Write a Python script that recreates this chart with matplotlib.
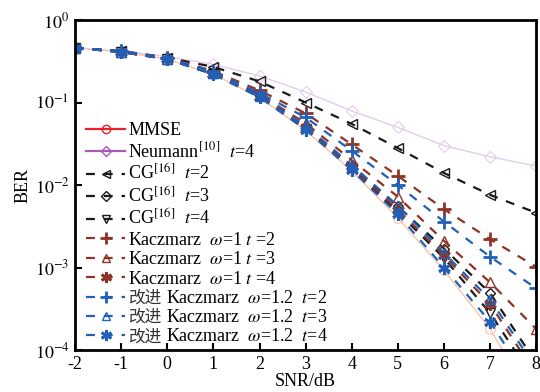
import matplotlib
matplotlib.use('Agg')
import matplotlib.pyplot as plt
from matplotlib.lines import Line2D
from matplotlib.ticker import FixedLocator, NullLocator

plt.rcParams['font.family'] = ['Liberation Serif', 'Noto Sans CJK SC']
plt.rcParams['mathtext.fontset'] = 'stix'
plt.rcParams['axes.unicode_minus'] = False

# SNR axis
snr = [-2, -1, 0, 1, 2, 3, 4, 5, 6, 7, 8]

# BER curves
mmse = [0.46, 0.41, 0.335, 0.22, 0.115, 0.046, 0.0148, 0.0040, 0.00093, 0.00018, 0.00002]
neumann = [0.46, 0.42, 0.36, 0.29, 0.21, 0.134, 0.079, 0.050, 0.030, 0.022, 0.017]
cg2 = [0.46, 0.42, 0.35, 0.27, 0.18, 0.10, 0.055, 0.028, 0.014, 0.0076, 0.0046]
cg3 = [0.46, 0.41, 0.34, 0.225, 0.12, 0.050, 0.0170, 0.0055, 0.0017, 0.00049, 0.00007]
cg4 = [0.46, 0.41, 0.335, 0.22, 0.117, 0.048, 0.0158, 0.0047, 0.0013, 0.00028, 0.00004]
kz2 = [0.46, 0.42, 0.35, 0.24, 0.14, 0.074, 0.031, 0.0129, 0.0051, 0.0022, 0.00102]
kz3 = [0.46, 0.41, 0.34, 0.228, 0.125, 0.056, 0.020, 0.0072, 0.0021, 0.00066, 0.00018]
kz4 = [0.46, 0.41, 0.335, 0.222, 0.118, 0.049, 0.0165, 0.0050, 0.0014, 0.00036, 0.00005]
ikz2 = [0.46, 0.42, 0.345, 0.235, 0.13, 0.066, 0.026, 0.0100, 0.0036, 0.00135, 0.00056]
ikz3 = [0.46, 0.41, 0.34, 0.225, 0.12, 0.052, 0.0175, 0.0056, 0.0015, 0.00041, 0.00006]
ikz4 = [0.46, 0.41, 0.335, 0.22, 0.116, 0.047, 0.0152, 0.0044, 0.0010, 0.00022, 0.00003]

ytick_vals = [1e-4, 1e-3, 1e-2, 1e-1, 1]
ytick_labels = ['$10^{-4}$', '$10^{-3}$', '$10^{-2}$', '$10^{-1}$', '$10^{0}$']

red = '#e8212a'
purple = '#a65cb4'
salmon = '#f9c3ab'
lavender = '#e2cdea'
black = '#1a1a1a'
brown = '#8e3426'
blue = '#2160b8'
ast = (6, 2, 0)

# for the last three rows the legend only holds the CJK word (plain text can
# fall back to the CJK font), the mathtext rest is written next to it
labels = ['MMSE',
          'Neumann$^{[10]}$  $t$=4',
          'CG$^{[16]}$  $t$=2',
          'CG$^{[16]}$  $t$=3',
          'CG$^{[16]}$  $t$=4',
          'Kaczmarz  $\\omega$=1 $t$ =2',
          'Kaczmarz  $\\omega$=1 $t$ =3',
          'Kaczmarz  $\\omega$=1 $t$ =4',
          '改进',
          '改进',
          '改进']
label_tails = ['Kaczmarz  $\\omega$=1.2  $t$=2',
               'Kaczmarz  $\\omega$=1.2  $t$=3',
               'Kaczmarz  $\\omega$=1.2  $t$=4']

fig = plt.figure(figsize=(5.4, 3.92), dpi=100)
ax = fig.add_axes([0.139, 0.107, 0.854, 0.842])

dash = (0, (4, 4))
ax.semilogy(snr, mmse, color=salmon, lw=1.0, marker='o', mfc='none', ms=7, mew=0.8)
ax.semilogy(snr, neumann, color=lavender, lw=1.0, marker='D', mfc='none', ms=6, mew=0.8)
ax.semilogy(snr, cg2, color=black, lw=1.6, ls=dash, marker='<', mfc='none', ms=7, mew=1.0)
ax.semilogy(snr, cg3, color=black, lw=1.6, ls=dash, marker='D', mfc='none', ms=5.5, mew=1.0)
ax.semilogy(snr, cg4, color=black, lw=1.6, ls=dash, marker='v', mfc='none', ms=7, mew=1.0)
ax.semilogy(snr, kz2, color=brown, lw=1.6, ls=dash, marker='+', ms=10, mew=2.0)
ax.semilogy(snr, kz3, color=brown, lw=1.6, ls=dash, marker='^', mfc='none', ms=7, mew=1.0)
ax.semilogy(snr, kz4, color=brown, lw=1.6, ls=dash, marker=ast, ms=9, mew=2.0)
ax.semilogy(snr, ikz2, color=blue, lw=1.6, ls=dash, marker='+', ms=10, mew=2.0)
ax.semilogy(snr, ikz3, color=blue, lw=1.6, ls=dash, marker='^', mfc='none', ms=7, mew=1.0)
ax.semilogy(snr, ikz4, color=blue, lw=1.6, ls=dash, marker=ast, ms=9, mew=2.0)

ax.set_xlim(-2, 8)
ax.set_ylim(1e-4, 1)
ax.set_xticks(snr)
ax.yaxis.set_major_locator(FixedLocator(ytick_vals))
ax.set_yticklabels(ytick_labels)
ax.yaxis.set_minor_locator(NullLocator())
ax.tick_params(direction='in', length=5, width=1.5, labelsize=13, pad=4)
for s in ax.spines.values():
    s.set_linewidth(2)
ax.set_xlabel('SNR/dB', fontsize=13, labelpad=0)
ax.set_ylabel('BER', fontsize=13, labelpad=2)

handles = [
    Line2D([], [], color=red, lw=1.6, marker='o', mfc='none', ms=6),
    Line2D([], [], color=purple, lw=1.6, marker='D', mfc='none', ms=5),
    Line2D([], [], color=black, lw=1.6, ls=dash, marker='<', mfc='none', ms=6),
    Line2D([], [], color=black, lw=1.6, ls=dash, marker='D', mfc='none', ms=5),
    Line2D([], [], color=black, lw=1.6, ls=dash, marker='v', mfc='none', ms=6),
    Line2D([], [], color=brown, lw=1.6, ls=dash, marker='+', ms=9, mew=2.0),
    Line2D([], [], color=brown, lw=1.6, ls=dash, marker='^', mfc='none', ms=6),
    Line2D([], [], color=brown, lw=1.6, ls=dash, marker=ast, ms=8, mew=2.0),
    Line2D([], [], color=blue, lw=1.6, ls=dash, marker='+', ms=9, mew=2.0),
    Line2D([], [], color=blue, lw=1.6, ls=dash, marker='^', mfc='none', ms=6),
    Line2D([], [], color=blue, lw=1.6, ls=dash, marker=ast, ms=8, mew=2.0),
]
leg = ax.legend(handles, labels, loc='upper left', bbox_to_anchor=(0.142, 0.712),
                bbox_transform=fig.transFigure, frameon=False, fontsize=13,
                handlelength=2.2, handletextpad=0.15, labelspacing=0.14, borderpad=0)
for txt in leg.get_texts()[8:]:
    txt.set_fontsize(12)
    txt.set_color('#333333')

fig.canvas.draw()
renderer = fig.canvas.get_renderer()
for txt, tail in zip(leg.get_texts()[8:], label_tails):
    bb = txt.get_window_extent(renderer)
    x0, y0 = txt.get_transform().transform(txt.get_position())
    fig.text(bb.x1 + 5, y0, tail, transform=None, fontsize=13,
             va=txt.get_va(), ha='left')

fig.savefig('out.png', dpi=100)
